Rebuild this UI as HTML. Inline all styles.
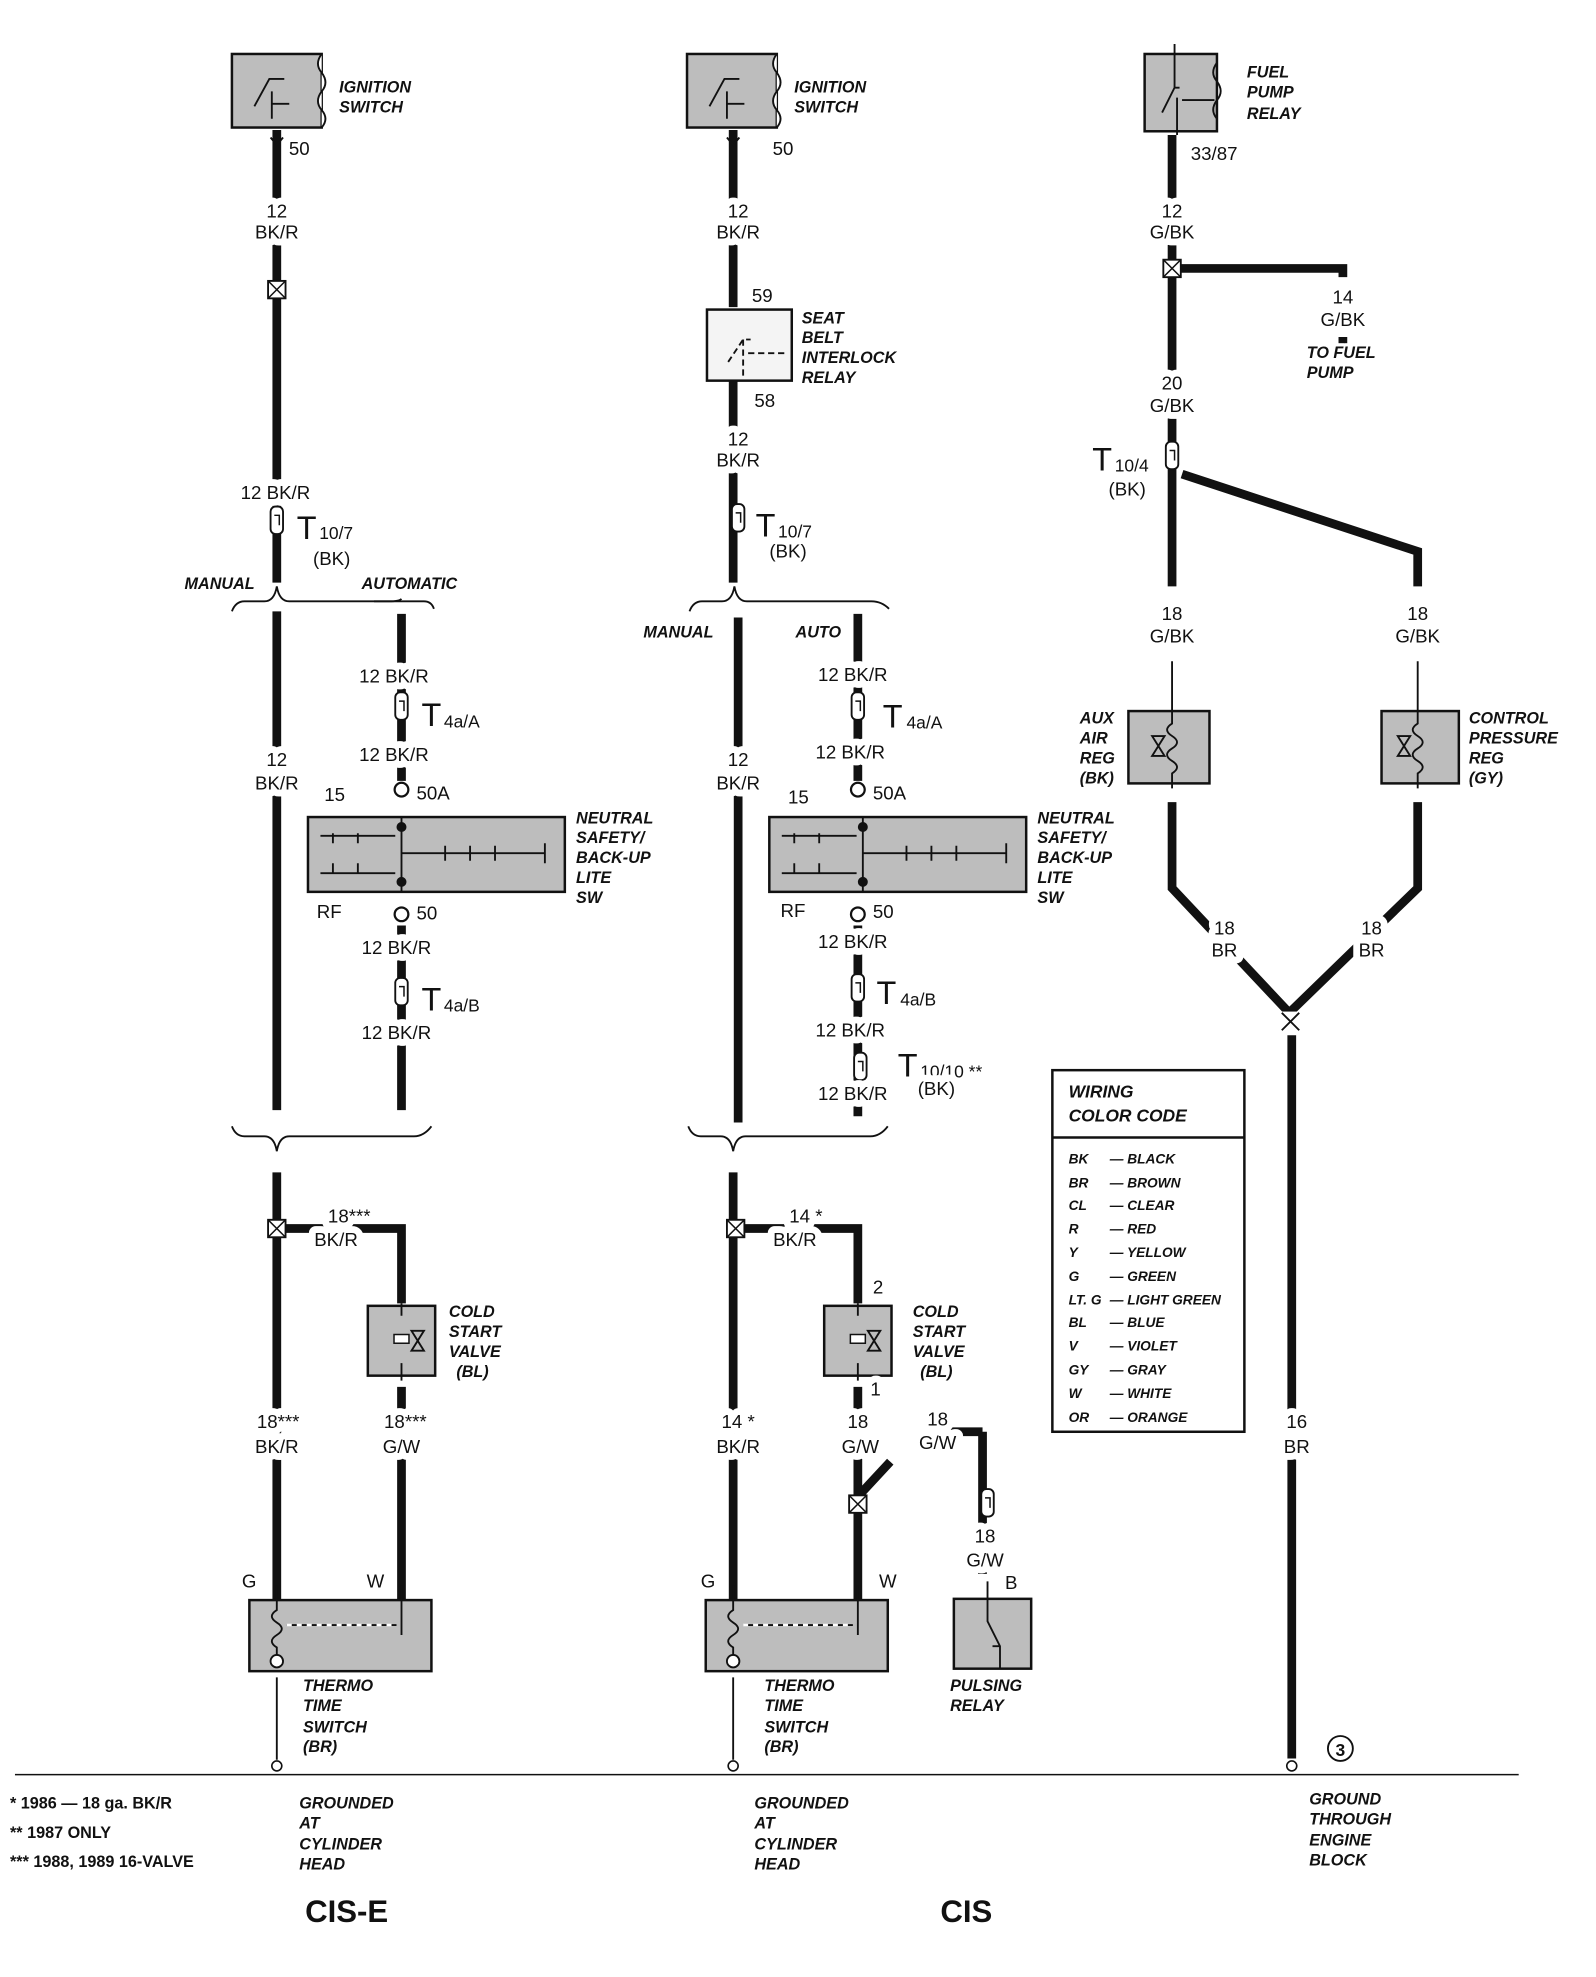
<!DOCTYPE html>
<html><head><meta charset="utf-8"><style>
html,body{margin:0;padding:0;background:#fff}
svg{display:block}
text{font-family:"Liberation Sans",sans-serif;fill:#111;paint-order:stroke;stroke:#fff;stroke-width:5px;stroke-linejoin:round}
.n,.l{stroke-width:11px}
.n{font-size:15px;text-anchor:middle}
.l{font-size:15px}
.bi{font-size:13px;font-weight:bold;font-style:italic}
.w{stroke:#111;stroke-width:7;fill:none}
.t{stroke:#111;stroke-width:1.5;fill:none}
.box{fill:#bdbdbd;stroke:#111;stroke-width:2}
</style></head><body>
<svg width="1596" height="1977" viewBox="0 0 1280 1585" xmlns="http://www.w3.org/2000/svg">
<defs>
<g id="sp"><rect x="-7" y="-7" width="14" height="14" fill="#fff" stroke="#111" stroke-width="1.5"/><path d="M-7,-7L7,7M7,-7L-7,7" stroke="#111" stroke-width="1.2"/></g>
<g id="cn"><rect x="-5" y="-11" width="10" height="22" rx="4" fill="#fff" stroke="#111" stroke-width="1.5"/><path d="M-2,-4h4v8" stroke="#111" stroke-width="1.2" fill="none"/></g>
<g id="ci"><circle r="5.5" fill="#fff" stroke="#111" stroke-width="1.8"/></g>
<g id="ign"><rect class="box" x="-36" y="0" width="72" height="59"/><path d="M-18,42l12,-22h12M-4,30v22M-4,40h14" class="t"/><path d="M36,0q-6,8 0,15q6,8 0,15q-6,8 0,15q6,7 0,14" fill="#fff" stroke="#111" stroke-width="1.5"/></g>
<g id="nss"><rect class="box" x="0" y="0" width="206" height="60"/><path d="M75,0v60M75,29h115M110,23v12M130,23v12M150,23v12M190,21v16M10,15h60M20,13v8M40,13v8M10,45h60M20,37v8M40,37v8" class="t"/><circle cx="75" cy="8" r="4" fill="#111"/><circle cx="75" cy="52" r="4" fill="#111"/></g>
<g id="csv"><rect class="box" x="-27" y="0" width="54" height="56"/><rect x="-6" y="23" width="12" height="7" fill="#fff" stroke="#111" stroke-width="1.2"/><path d="M8,20l10,16h-10l10,-16z" fill="none" stroke="#111" stroke-width="1.5"/><path d="M0,-2v10M0,46v14" class="t"/></g>
<g id="tts"><rect class="box" x="0" y="0" width="146" height="57"/><path d="M22,-12v20q-8,5 0,10q8,5 0,10q-8,5 0,10v14M122,-12v40M30,20h88" class="t"/><path d="M30,20h88" stroke="#fff" stroke-width="2" stroke-dasharray="4 4"/><circle cx="22" cy="49" r="5" fill="#fff" stroke="#111" stroke-width="1.5"/></g>
</defs>

<!-- ===== CIS-E column ===== -->
<use href="#ign" x="222" y="43"/>
<text class="bi" x="272" y="74">IGNITION</text><text class="bi" x="272" y="90">SWITCH</text>
<path class="w" d="M222,104V467"/>
<path class="t" d="M217,110l5,6l5,-6"/>
<text class="n" x="240" y="124">50</text>
<text class="n" x="222" y="174">12</text><text class="n" x="222" y="191">BK/R</text>
<use href="#sp" x="222" y="232"/>
<text class="l" x="193" y="400">12 BK/R</text>
<use href="#cn" x="222" y="417"/>
<text x="238" y="432" style="font-size:26px">T</text><text x="256" y="432" style="font-size:14px">10/7</text>
<text class="n" x="266" y="453">(BK)</text>
<text class="bi" x="148" y="472">MANUAL</text><text class="bi" x="290" y="472">AUTOMATIC</text>
<path class="t" d="M186,490q3,-8 10,-8h16q8,0 10,-12q2,12 10,12h80q8,0 10,-2" stroke-width="2"/>
<path class="t" d="M300,482h40q6,0 8,6" stroke-width="2"/>
<path class="w" d="M222,490V890"/>
<text class="n" x="222" y="614">12</text><text class="n" x="222" y="633">BK/R</text>
<path class="w" d="M322,492V626M322,742V890"/>
<text class="l" x="288" y="547">12 BK/R</text>
<use href="#cn" x="322" y="566"/>
<text x="338" y="582" style="font-size:26px">T</text><text x="356" y="583" style="font-size:14px">4a/A</text>
<text class="l" x="288" y="610">12 BK/R</text>
<use href="#ci" x="322" y="633"/>
<text class="l" x="260" y="642">15</text><text class="l" x="334" y="641">50A</text>
<use href="#nss" x="247" y="655"/>
<text class="bi" x="462" y="660">NEUTRAL</text><text class="bi" x="462" y="676">SAFETY/</text><text class="bi" x="462" y="692">BACK-UP</text><text class="bi" x="462" y="708">LITE</text><text class="bi" x="462" y="724">SW</text>
<use href="#ci" x="322" y="733"/>
<text class="l" x="254" y="736">RF</text><text class="l" x="334" y="737">50</text>
<text class="l" x="290" y="765">12 BK/R</text>
<use href="#cn" x="322" y="795"/>
<text x="338" y="810" style="font-size:26px">T</text><text x="356" y="811" style="font-size:14px">4a/B</text>
<text class="l" x="290" y="833">12 BK/R</text>
<path class="t" d="M186,903q3,8 10,8h16q8,0 10,12q2,-12 10,-12h100q8,0 14,-8" stroke-width="2"/>
<path class="w" d="M222,940V1283"/>
<use href="#sp" x="222" y="985"/>
<path class="w" d="M229,985H322V1045"/>
<text class="l" x="263" y="980">18***</text><text class="l" x="252" y="999">BK/R</text>
<use href="#csv" x="322" y="1047"/>
<text class="bi" x="360" y="1056">COLD</text><text class="bi" x="360" y="1072">START</text><text class="bi" x="360" y="1088">VALVE</text><text class="bi" x="366" y="1104">(BL)</text>
<path class="w" d="M322,1112V1283"/>
<text class="l" x="206" y="1145">18***</text><text class="n" x="222" y="1165">BK/R</text>
<text class="l" x="308" y="1145">18***</text><text class="n" x="322" y="1165">G/W</text>
<text class="l" x="194" y="1273">G</text><text class="l" x="294" y="1273">W</text>
<use href="#tts" x="200" y="1283"/>
<path class="t" d="M222,1345V1411" stroke-width="1"/>
<circle cx="222" cy="1416" r="4" fill="#fff" stroke="#111" stroke-width="1.3"/>
<text class="bi" x="243" y="1356">THERMO</text><text class="bi" x="243" y="1372">TIME</text><text class="bi" x="243" y="1389">SWITCH</text><text class="bi" x="243" y="1405">(BR)</text>
<text class="bi" x="240" y="1450">GROUNDED</text><text class="bi" x="240" y="1466">AT</text><text class="bi" x="240" y="1483">CYLINDER</text><text class="bi" x="240" y="1499">HEAD</text>

<!-- ===== CIS column ===== -->
<use href="#ign" x="587" y="43"/>
<text class="bi" x="637" y="74">IGNITION</text><text class="bi" x="637" y="90">SWITCH</text>
<path class="w" d="M588,104V246M588,305V467"/>
<path class="t" d="M583,110l5,6l5,-6"/>
<text class="n" x="628" y="124">50</text>
<text class="n" x="592" y="174">12</text><text class="n" x="592" y="191">BK/R</text>
<text class="l" x="603" y="242">59</text>
<rect x="567" y="248" width="68" height="57" style="fill:#f4f4f4;stroke:#111;stroke-width:2"/>
<path class="t" d="M584,290l12,-18h6M596,272v30M600,283h30" stroke-dasharray="5 3"/>
<text class="bi" x="643" y="259">SEAT</text><text class="bi" x="643" y="275">BELT</text><text class="bi" x="643" y="291">INTERLOCK</text><text class="bi" x="643" y="307">RELAY</text>
<text class="l" x="605" y="326">58</text>
<text class="n" x="592" y="357">12</text><text class="n" x="592" y="374">BK/R</text>
<use href="#cn" x="592" y="415"/>
<text x="606" y="430" style="font-size:26px">T</text><text x="624" y="431" style="font-size:14px">10/7</text>
<text class="n" x="632" y="447">(BK)</text>
<path class="t" d="M553,490q3,-8 10,-8h16q8,0 10,-12q2,12 10,12h100q8,0 14,6" stroke-width="2"/>
<text class="bi" x="516" y="511">MANUAL</text><text class="bi" x="638" y="511">AUTO</text>
<path class="w" d="M592,495V900"/>
<text class="n" x="592" y="614">12</text><text class="n" x="592" y="633">BK/R</text>
<path class="w" d="M688,492V626M688,742V895"/>
<text class="l" x="656" y="546">12 BK/R</text>
<use href="#cn" x="688" y="566"/>
<text x="708" y="583" style="font-size:26px">T</text><text x="727" y="584" style="font-size:14px">4a/A</text>
<text class="l" x="654" y="608">12 BK/R</text>
<use href="#ci" x="688" y="633"/>
<text class="l" x="632" y="644">15</text><text class="l" x="700" y="641">50A</text>
<use href="#nss" x="617" y="655"/>
<text class="bi" x="832" y="660">NEUTRAL</text><text class="bi" x="832" y="676">SAFETY/</text><text class="bi" x="832" y="692">BACK-UP</text><text class="bi" x="832" y="708">LITE</text><text class="bi" x="832" y="724">SW</text>
<use href="#ci" x="688" y="733"/>
<text class="l" x="626" y="735">RF</text><text class="l" x="700" y="736">50</text>
<text class="l" x="656" y="760">12 BK/R</text>
<use href="#cn" x="688" y="792"/>
<text x="703" y="805" style="font-size:26px">T</text><text x="722" y="806" style="font-size:14px">4a/B</text>
<text class="l" x="654" y="831">12 BK/R</text>
<use href="#cn" x="690" y="855"/>
<text x="720" y="863" style="font-size:26px">T</text><text x="738" y="864" style="font-size:14px">10/10 **</text>
<text class="l" x="656" y="882">12 BK/R</text><text class="n" x="751" y="878">(BK)</text>
<path class="t" d="M552,903q3,8 10,8h16q8,0 10,12q2,-12 10,-12h100q8,0 14,-8" stroke-width="2"/>
<path class="w" d="M588,940V1283"/>
<use href="#sp" x="590" y="985"/>
<path class="w" d="M597,985H688V1045"/>
<text class="l" x="633" y="980">14 *</text><text class="l" x="620" y="999">BK/R</text>
<text class="l" x="700" y="1037">2</text>
<use href="#csv" x="688" y="1047"/>
<text class="bi" x="732" y="1056">COLD</text><text class="bi" x="732" y="1072">START</text><text class="bi" x="732" y="1088">VALVE</text><text class="bi" x="738" y="1104">(BL)</text>
<path class="w" d="M688,1112V1283M688,1200L714,1172M788,1148V1262M742,1148H788"/>
<text class="l" x="698" y="1119">1</text>
<use href="#sp" x="688" y="1206"/>
<text class="n" x="592" y="1145">14 *</text><text class="n" x="592" y="1165">BK/R</text>
<text class="n" x="688" y="1145">18</text><text class="n" x="690" y="1165">G/W</text>
<text class="n" x="752" y="1143">18</text><text class="n" x="752" y="1162">G/W</text>
<use href="#cn" x="792" y="1205"/>
<text class="n" x="790" y="1237">18</text><text class="n" x="790" y="1256">G/W</text>
<text class="l" x="806" y="1274">B</text>
<rect class="box" x="765" y="1282" width="62" height="56"/>
<path class="t" d="M792,1268V1300l10,20v18M802,1320h-6"/>
<text class="bi" x="762" y="1356">PULSING</text><text class="bi" x="762" y="1372">RELAY</text>
<text class="l" x="562" y="1273">G</text><text class="l" x="705" y="1273">W</text>
<use href="#tts" x="566" y="1283"/>
<path class="t" d="M588,1345V1411" stroke-width="1"/>
<circle cx="588" cy="1416" r="4" fill="#fff" stroke="#111" stroke-width="1.3"/>
<text class="bi" x="613" y="1356">THERMO</text><text class="bi" x="613" y="1372">TIME</text><text class="bi" x="613" y="1389">SWITCH</text><text class="bi" x="613" y="1405">(BR)</text>
<text class="bi" x="605" y="1450">GROUNDED</text><text class="bi" x="605" y="1466">AT</text><text class="bi" x="605" y="1483">CYLINDER</text><text class="bi" x="605" y="1499">HEAD</text>

<!-- ===== Fuel pump column ===== -->
<rect class="box" x="918" y="43" width="58" height="62"/>
<path class="t" d="M932,90l10,-20h4M942,35v35M944,78v30M948,80h26"/>
<path class="t" d="M976,50q-6,8 0,15q6,8 0,15q-6,8 0,15"/>
<text class="bi" x="1000" y="62">FUEL</text><text class="bi" x="1000" y="78">PUMP</text><text class="bi" x="1000" y="95">RELAY</text>
<path class="w" d="M940,108V470M948,380L1137,442V470M947,215H1077V222M1077,270V275"/>
<text class="l" x="955" y="128">33/87</text>
<text class="n" x="940" y="174">12</text><text class="n" x="940" y="191">G/BK</text>
<use href="#sp" x="940" y="215"/>
<text class="n" x="1077" y="243">14</text><text class="n" x="1077" y="261">G/BK</text>
<text class="bi" x="1048" y="287">TO FUEL</text><text class="bi" x="1048" y="303">PUMP</text>
<text class="n" x="940" y="312">20</text><text class="n" x="940" y="330">G/BK</text>
<use href="#cn" x="940" y="365"/>
<text x="876" y="377" style="font-size:26px">T</text><text x="894" y="378" style="font-size:14px">10/4</text>
<text class="n" x="904" y="397">(BK)</text>
<text class="n" x="940" y="497">18</text><text class="n" x="940" y="515">G/BK</text>
<text class="n" x="1137" y="497">18</text><text class="n" x="1137" y="515">G/BK</text>
<path class="t" d="M940,530V570M1137,530V570"/>
<rect class="box" x="905" y="570" width="65" height="58"/>
<rect class="box" x="1108" y="570" width="62" height="58"/>
<path class="t" d="M940,570v10q-8,5 0,10q8,5 0,10q-8,5 0,10q8,5 0,10v12M924,590l10,16h-10l10,-16z"/>
<path class="t" d="M1137,570v10q-8,5 0,10q8,5 0,10q-8,5 0,10q8,5 0,10v12M1121,590l10,16h-10l10,-16z"/>
<text class="bi" x="866" y="580">AUX</text><text class="bi" x="866" y="596">AIR</text><text class="bi" x="866" y="612">REG</text><text class="bi" x="866" y="628">(BK)</text>
<text class="bi" x="1178" y="580">CONTROL</text><text class="bi" x="1178" y="596">PRESSURE</text><text class="bi" x="1178" y="612">REG</text><text class="bi" x="1178" y="628">(GY)</text>
<path class="w" d="M940,643V712L1034,812L1137,712V643"/>
<text class="n" x="982" y="749">18</text><text class="n" x="982" y="767">BR</text>
<text class="n" x="1100" y="749">18</text><text class="n" x="1100" y="767">BR</text>
<path class="w" d="M1036,830V1410"/>
<rect x="1027" y="811" width="18" height="18" fill="#fff"/>
<path class="t" d="M1028,812l14,14M1042,812l-14,14"/>
<circle cx="1036" cy="1416" r="4" fill="#fff" stroke="#111" stroke-width="1.3"/>
<text class="n" x="1040" y="1145">16</text><text class="n" x="1040" y="1165">BR</text>
<circle cx="1075" cy="1402" r="10" fill="#fff" stroke="#111" stroke-width="1.5"/><text x="1075" y="1408" style="font-weight:bold;font-size:14px;stroke:none;text-anchor:middle">3</text>

<text class="bi" x="1050" y="1447">GROUND</text><text class="bi" x="1050" y="1463">THROUGH</text><text class="bi" x="1050" y="1480">ENGINE</text><text class="bi" x="1050" y="1496">BLOCK</text>

<!-- color code -->
<rect x="844" y="858" width="154" height="290" fill="#fff" stroke="#111" stroke-width="2"/>
<path d="M844,912H998" stroke="#111" stroke-width="2"/>
<text class="bi" x="857" y="880" style="font-size:14px">WIRING</text><text class="bi" x="857" y="899" style="font-size:14px">COLOR CODE</text>
<g style="font-size:11px;font-style:italic;font-weight:bold">
<text x="857" y="933">BK</text><text x="890" y="933">— BLACK</text>
<text x="857" y="952">BR</text><text x="890" y="952">— BROWN</text>
<text x="857" y="970">CL</text><text x="890" y="970">— CLEAR</text>
<text x="857" y="989">R</text><text x="890" y="989">— RED</text>
<text x="857" y="1008">Y</text><text x="890" y="1008">— YELLOW</text>
<text x="857" y="1027">G</text><text x="890" y="1027">— GREEN</text>
<text x="857" y="1046">LT. G</text><text x="890" y="1046">— LIGHT GREEN</text>
<text x="857" y="1064">BL</text><text x="890" y="1064">— BLUE</text>
<text x="857" y="1083">V</text><text x="890" y="1083">— VIOLET</text>
<text x="857" y="1102">GY</text><text x="890" y="1102">— GRAY</text>
<text x="857" y="1121">W</text><text x="890" y="1121">— WHITE</text>
<text x="857" y="1140">OR</text><text x="890" y="1140">— ORANGE</text>
</g>

<!-- ground line -->
<path d="M12,1423H1218" stroke="#111" stroke-width="1.2"/>
<text x="8" y="1450" style="font-size:13px;font-weight:bold">* 1986 — 18 ga. BK/R</text>
<text x="8" y="1474" style="font-size:13px;font-weight:bold">** 1987 ONLY</text>
<text x="8" y="1497" style="font-size:13px;font-weight:bold">*** 1988, 1989 16-VALVE</text>
<text x="278" y="1541" style="font-size:25px;font-weight:bold;text-anchor:middle">CIS-E</text>
<text x="775" y="1541" style="font-size:25px;font-weight:bold;text-anchor:middle">CIS</text>
</svg>
</body></html>
